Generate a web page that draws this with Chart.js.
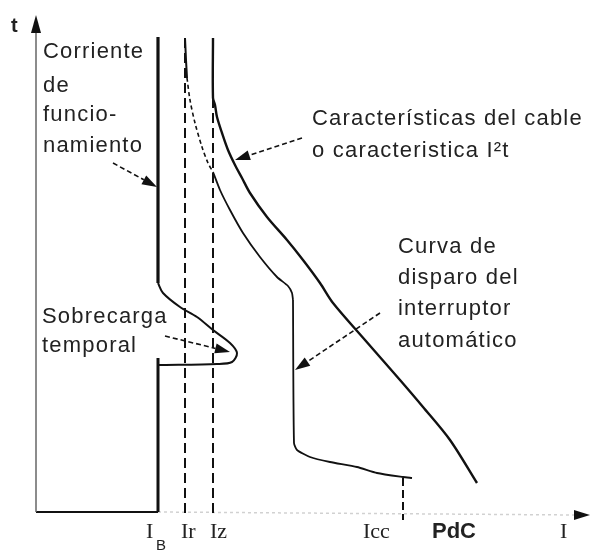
<!DOCTYPE html>
<html>
<head>
<meta charset="utf-8">
<script src="https://cdn.jsdelivr.net/npm/chart.js@4.4.0/dist/chart.umd.min.js"></script>
<style>
  html, body { margin: 0; padding: 0; background: #fff; }
  #wrap { width: 594px; height: 553px; position: relative; }
</style>
</head>
<body>
<div id="wrap"><canvas id="curvas"></canvas></div>
<script>
"use strict";

// valores: I = corriente (horizontal), t = tiempo (vertical)
// sin unidades, el origen es el cruce de los ejes

const tickNames = ["I", "Ir", "Iz", "Icc", "PdC", "I"];
const tickValues = [122, 149, 177, 367];   // I_B, Ir, Iz, Icc

// corriente de funcionamiento I_B (linea gruesa, cortada por el texto)
const ibUpperT = [475, 229];
const ibLowerT = [154, 0];

// sobrecarga temporal
const sobreI = [122, 127, 144, 161, 177, 194, 201, 196, 181, 127, 122];
const sobreT = [229, 219, 205, 195, 182, 169, 159, 150, 148, 147, 147];

// Ir y Iz (discontinuas)
const irT = [474, -3];
const izT = [474, -3];

// caracteristica del cable I2t
const cableI = [177, 177, 179, 181, 186, 192, 199, 206, 214, 231, 251, 267, 284, 297, 329, 364, 387, 414, 441];
const cableT = [474, 414, 407, 395, 379, 362, 347, 334, 319, 295, 272, 252, 229, 209, 172, 132, 105, 72, 29];

// curva de disparo del interruptor
const tripTopI = [149, 150, 151];
const tripTopT = [474, 452, 434];
const tripDashI = [151, 154, 159, 166, 172, 177];
const tripDashT = [434, 412, 389, 365, 349, 340];
const tripI = [177, 184, 194, 207, 224, 241, 252, 256, 257];
const tripT = [340, 322, 302, 279, 255, 235, 226, 219, 212];
const tripLowI = [257, 258, 261, 274, 294, 321, 341, 367, 376];
const tripLowT = [212, 69, 62, 55, 50, 45, 39, 35, 34];

// Icc
const iccT = [34, -8];

// ejes
const yAxisTop = 497;
const xAxisEnd = 554;

// flechas de las notas: Corriente, Cable, Disparo, Sobrecarga
const arrowFromI = [77, 266, 344, 129];
const arrowFromT = [349, 374, 199, 176];
const arrowToI = [121, 199, 259, 194];
const arrowToT = [325, 352, 142, 160];

const noteCorriente = ["Corriente", "de", "funcio-", "namiento"];
const noteSobrecarga = ["Sobrecarga", "temporal"];
const noteCable = ["Características del cable", "o caracteristica I²t"];
const noteDisparo = ["Curva de", "disparo del", "interruptor", "automático"];

function pts(iv, tv) {
  return iv.map((v, k) => ({ x: v, y: tv[k] }));
}

function serie(data, w, dash, color, tension) {
  return {
    data: data,
    showLine: true,
    borderColor: color || "#111",
    borderWidth: w,
    borderDash: dash || [],
    tension: tension || 0,
    pointRadius: 0,
    fill: false
  };
}

const datasets = [
  serie(pts([0, 0], [0, yAxisTop - 14]), 1.5, [], "#666"),
  serie(pts([0, tickValues[0]], [0, 0]), 2, [], "#111"),
  serie(pts([tickValues[0], xAxisEnd - 14], [0, -3]), 1.5, [3, 3], "rgba(0,0,0,0.18)"),
  serie(pts([tickValues[0], tickValues[0]], ibUpperT), 3.2),
  serie(pts([tickValues[0], tickValues[0]], ibLowerT), 3),
  serie(pts(sobreI, sobreT), 2, [], "#111", 0.3),
  serie(pts([tickValues[1], tickValues[1]], irT), 2, [10, 5]),
  serie(pts([tickValues[2], tickValues[2]], izT), 2, [10, 5]),
  serie(pts(cableI, cableT), 2.4, [], "#111", 0.3),
  serie(pts(tripTopI, tripTopT), 2),
  serie(pts(tripDashI, tripDashT), 1.6, [4, 3], "#111", 0.3),
  serie(pts(tripI, tripT), 1.8, [], "#111", 0.2),
  serie(pts(tripLowI, tripLowT), 1.8, [], "#111", 0.2),
  serie(pts([tickValues[3], tickValues[3]], iccT), 2, [8, 4])
];

function flecha(ctx, x0, y0, x1, y1, dash, len, half) {
  const ang = Math.atan2(y1 - y0, x1 - x0);
  const bx = x1 - len * Math.cos(ang);
  const by = y1 - len * Math.sin(ang);
  ctx.save();
  ctx.strokeStyle = "#111";
  ctx.fillStyle = "#111";
  if (dash) {
    ctx.setLineDash(dash);
    ctx.lineWidth = 1.6;
    ctx.beginPath();
    ctx.moveTo(x0, y0);
    ctx.lineTo(bx, by);
    ctx.stroke();
  }
  ctx.setLineDash([]);
  ctx.beginPath();
  ctx.moveTo(x1, y1);
  ctx.lineTo(bx + half * Math.sin(ang), by - half * Math.cos(ang));
  ctx.lineTo(bx - half * Math.sin(ang), by + half * Math.cos(ang));
  ctx.closePath();
  ctx.fill();
  ctx.restore();
}

function lineas(ctx, lines, x, y0, steps) {
  lines.forEach((s, k) => ctx.fillText(s, x, y0 + steps[k]));
}

const dibujo = {
  id: "dibujo",
  afterDatasetsDraw(chart) {
    const ctx = chart.ctx;
    const sx = chart.scales.x;
    const sy = chart.scales.y;
    const X = v => sx.getPixelForValue(v);
    const Y = v => sy.getPixelForValue(v);

    // puntas de los ejes
    flecha(ctx, X(0), Y(0), X(0), Y(yAxisTop), null, 18, 5);
    flecha(ctx, X(xAxisEnd - 20), Y(-3), X(xAxisEnd), Y(-3), null, 16, 5);

    // flechas de las notas
    for (let k = 0; k < arrowFromI.length; k++) {
      flecha(ctx, X(arrowFromI[k]), Y(arrowFromT[k]), X(arrowToI[k]), Y(arrowToT[k]), [5, 3], 15, 5);
    }

    ctx.save();
    ctx.fillStyle = "#222";
    ctx.textBaseline = "alphabetic";
    ctx.textAlign = "left";

    ctx.font = "bold 20px 'Liberation Sans', Arial, sans-serif";
    ctx.fillText("t", 11, 32);

    ctx.font = "22px 'Liberation Sans', Arial, sans-serif";
    ctx.letterSpacing = "1.2px";
    lineas(ctx, noteCorriente, 43, 58, [0, 34, 63, 94]);
    lineas(ctx, noteSobrecarga, 42, 323, [0, 29]);
    lineas(ctx, noteCable, 312, 125, [0, 32]);
    lineas(ctx, noteDisparo, 398, 253, [0, 31, 62, 94]);
    ctx.letterSpacing = "0px";

    // rotulos del eje de corrientes
    const base = 538;
    ctx.font = "22px 'Liberation Serif', serif";
    ctx.fillText(tickNames[0], 146, base);
    ctx.font = "15px 'Liberation Sans', Arial, sans-serif";
    ctx.fillText("B", 156, base + 12);
    ctx.font = "22px 'Liberation Serif', serif";
    ctx.fillText(tickNames[1], 181, base);
    ctx.fillText(tickNames[2], 210, base);
    ctx.fillText(tickNames[3], 363, base);
    ctx.fillText(tickNames[5], 560, base);
    ctx.font = "bold 22px 'Liberation Sans', Arial, sans-serif";
    ctx.fillText(tickNames[4], 432, base);
    ctx.restore();
  }
};

new Chart(document.getElementById("curvas"), {
  type: "scatter",
  data: { datasets: datasets },
  options: {
    responsive: true,
    maintainAspectRatio: false,
    animation: false,
    layout: { padding: 0 },
    plugins: {
      legend: { display: false },
      tooltip: { enabled: false }
    },
    scales: {
      x: { type: "linear", display: false, min: -36, max: 558 },
      y: { type: "linear", display: false, min: -41, max: 512 }
    }
  },
  plugins: [dibujo]
});
</script>
</body>
</html>
